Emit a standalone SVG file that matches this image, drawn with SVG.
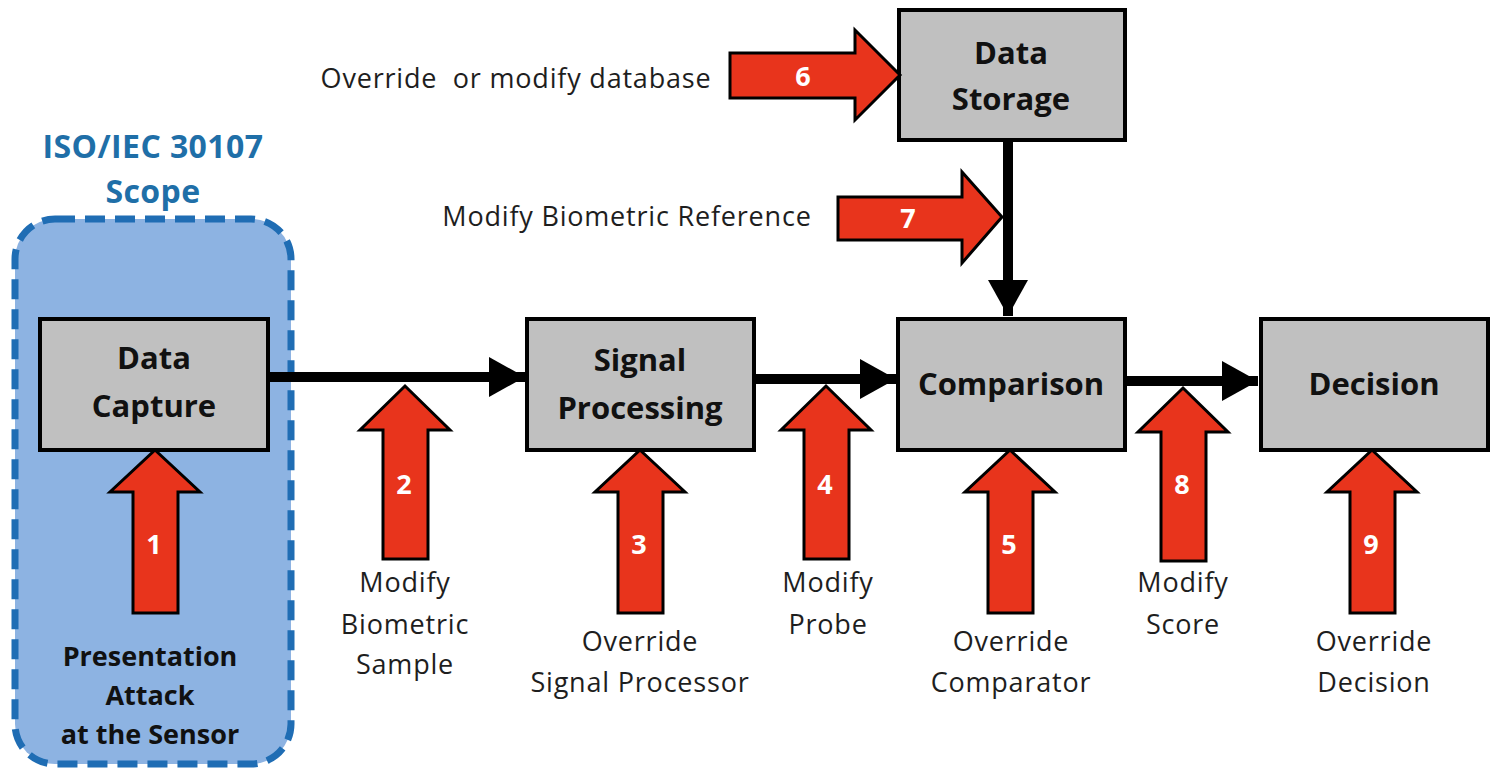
<svg xmlns="http://www.w3.org/2000/svg" width="1505" height="778" viewBox="0 0 1505 778">
<defs>
<style>
.node{fill:#c0c0c0;stroke:#000;stroke-width:4}
.nl{font-family:"Open Sans","Noto Sans",sans-serif;font-weight:bold;font-size:31px;fill:#111;text-anchor:middle}
.lbl{font-family:"Open Sans","Noto Sans",sans-serif;font-size:27px;letter-spacing:0.8px;fill:#1e1e1e;text-anchor:middle;white-space:pre}
.bl{font-family:"Open Sans","Noto Sans",sans-serif;font-size:27px;font-weight:bold;fill:#111;text-anchor:middle}
.num{font-family:"Open Sans","Noto Sans",sans-serif;font-weight:bold;font-size:27px;fill:#fff;text-anchor:middle}
.ttl{font-family:"Open Sans","Noto Sans",sans-serif;font-weight:bold;font-size:32px;letter-spacing:0.4px;fill:#1f6fa8;text-anchor:middle}
.red{fill:#e8341c;stroke:#000;stroke-width:3;stroke-linejoin:miter}
.conn{stroke:#000;stroke-width:10;fill:none}
</style>
<marker id="ah" markerWidth="4" markerHeight="4" refX="3.6" refY="2" orient="auto" markerUnits="strokeWidth">
<path d="M0,0 L3.6,2 L0,4 Z" fill="#000"/>
</marker>
<path id="upA" d="M0,0 L45,42 L23,42 L23,163 L-22,163 L-22,42 L-45,42 Z"/>
<path id="upB" d="M0,0 L45,44 L23,44 L23,173 L-22,173 L-22,44 L-45,44 Z"/>
</defs>
<rect width="1505" height="778" fill="#fff"/>

<g id="scope">
<rect x="15" y="219" width="276" height="545" rx="40" ry="40" fill="#8db3e2" stroke="#1f6db4" stroke-width="7" stroke-dasharray="20,10"/>
<text class="ttl" x="153" y="158">ISO/IEC 30107</text>
<text class="ttl" x="153" y="203">Scope</text>
</g>

<g id="connectors">
<line class="conn" x1="268" y1="377" x2="525" y2="377" marker-end="url(#ah)"/>
<line class="conn" x1="754" y1="379" x2="896" y2="379" marker-end="url(#ah)"/>
<line class="conn" x1="1125" y1="381" x2="1258" y2="381" marker-end="url(#ah)"/>
<line class="conn" x1="1008" y1="140" x2="1008" y2="316" marker-end="url(#ah)"/>
</g>

<g id="data-capture">
<rect class="node" x="40" y="319" width="228" height="131"/>
<text class="nl" x="154" y="369">Data</text>
<text class="nl" x="154" y="417">Capture</text>
</g>
<g id="signal-processing">
<rect class="node" x="527" y="319" width="227" height="131"/>
<text class="nl" x="640" y="371">Signal</text>
<text class="nl" x="640" y="419">Processing</text>
</g>
<g id="comparison">
<rect class="node" x="898" y="319" width="227" height="131"/>
<text class="nl" x="1011" y="395">Comparison</text>
</g>
<g id="decision">
<rect class="node" x="1261" y="319" width="227" height="131"/>
<text class="nl" x="1374" y="395">Decision</text>
</g>
<g id="data-storage">
<rect class="node" x="899" y="10" width="226" height="130"/>
<text class="nl" x="1011" y="64">Data</text>
<text class="nl" x="1011" y="110">Storage</text>
</g>

<g id="attack-1">
<use href="#upA" class="red" x="155" y="450"/>
<text class="num" x="154" y="554">1</text>
<text class="bl" x="150" y="666">Presentation</text>
<text class="bl" x="150" y="705">Attack</text>
<text class="bl" x="150" y="744">at the Sensor</text>
</g>
<g id="attack-2">
<use href="#upB" class="red" x="405" y="386"/>
<text class="num" x="404" y="494">2</text>
<text class="lbl" x="405" y="592">Modify</text>
<text class="lbl" x="405" y="634">Biometric</text>
<text class="lbl" x="405" y="674">Sample</text>
</g>
<g id="attack-3">
<use href="#upA" class="red" x="640" y="450"/>
<text class="num" x="639" y="554">3</text>
<text class="lbl" x="640" y="651">Override</text>
<text class="lbl" x="640" y="692">Signal Processor</text>
</g>
<g id="attack-4">
<use href="#upB" class="red" x="826" y="386"/>
<text class="num" x="825" y="494">4</text>
<text class="lbl" x="828" y="592">Modify</text>
<text class="lbl" x="828" y="634">Probe</text>
</g>
<g id="attack-5">
<use href="#upA" class="red" x="1010" y="450"/>
<text class="num" x="1009" y="554">5</text>
<text class="lbl" x="1011" y="651">Override</text>
<text class="lbl" x="1011" y="692">Comparator</text>
</g>
<g id="attack-6">
<path class="red" d="M900,75 L855,30 L855,53 L730,53 L730,98 L855,98 L855,120 Z"/>
<text class="num" x="803" y="86">6</text>
<text class="lbl" x="516" y="88" xml:space="preserve">Override  or modify database</text>
</g>
<g id="attack-7">
<path class="red" d="M1002,217 L962,172 L962,197 L838,197 L838,240 L962,240 L962,263 Z"/>
<text class="num" x="908" y="228">7</text>
<text class="lbl" x="627" y="226">Modify Biometric Reference</text>
</g>
<g id="attack-8">
<use href="#upB" class="red" x="1183" y="388"/>
<text class="num" x="1182" y="494">8</text>
<text class="lbl" x="1183" y="592">Modify</text>
<text class="lbl" x="1183" y="634">Score</text>
</g>
<g id="attack-9">
<use href="#upA" class="red" x="1372" y="450"/>
<text class="num" x="1371" y="554">9</text>
<text class="lbl" x="1374" y="651">Override</text>
<text class="lbl" x="1374" y="692">Decision</text>
</g>
</svg>
